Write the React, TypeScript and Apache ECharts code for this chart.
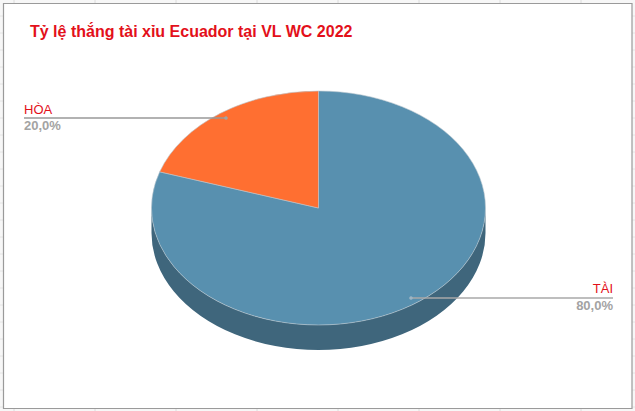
import React, { useEffect, useRef } from "react";
import * as echarts from "echarts";

const titleText = "Tỷ lệ thắng tài xỉu Ecuador tại VL WC 2022";
const categories = ["TÀI", "HÒA"];
const shares = [80, 20];
const sliceColors = ["#5890AF", "#FF6F31"];
const wallColors = ["#3F667C", "#B84F22"];

const CX = 318.5, CY = 208, RX = 167, RY = 117, DEPTH = 25;
const pt = (deg: number, dy = 0) => {
  const r = ((deg - 90) * Math.PI) / 180;
  return [CX + RX * Math.cos(r), CY + RY * Math.sin(r) + dy];
};
const arc = (from: number, to: number, dy = 0, sweep = 1) => {
  // split long arcs so that each stays under 180 degrees
  const dir = to > from ? 1 : -1;
  let s = "";
  let a = from;
  while (a !== to) {
    const b = dir > 0 ? Math.min(a + 120, to) : Math.max(a - 120, to);
    const p = pt(b, dy);
    s += ` A ${RX} ${RY} 0 0 ${sweep} ${p[0]} ${p[1]}`;
    a = b;
  }
  return s;
};

const pct = (v: number) => v.toFixed(1).replace(".", ",") + "%";

function renderSlice(params: any, api: any) {
  const i = params.dataIndex;
  const total = shares.reduce((a, b) => a + b, 0);
  const before = shares.slice(0, i).reduce((a, b) => a + b, 0);
  const a0 = (before / total) * 360;
  const a1 = a0 + (api.value(0) / total) * 360;
  const children: any[] = [];
  // the visible wall is the front half of the ellipse: 90..270 degrees clockwise from the top
  const w0 = Math.max(a0, 90), w1 = Math.min(a1, 270);
  if (w1 > w0) {
    const p0 = pt(w0), p1 = pt(w1, DEPTH);
    children.push({
      type: "path",
      shape: { pathData: `M ${p0[0]} ${p0[1]}${arc(w0, w1)} L ${p1[0]} ${p1[1]}${arc(w1, w0, DEPTH, 0)} Z` },
      style: { fill: wallColors[i], stroke: null },
    });
  }
  const s = pt(a0);
  children.push({
    type: "path",
    shape: { pathData: `M ${CX} ${CY} L ${s[0]} ${s[1]}${arc(a0, a1)} Z` },
    style: { fill: sliceColors[i], stroke: "#B9C6CE", lineWidth: 0.6, lineJoin: "round" },
  });
  return { type: "group", children };
}

export default function App() {
  const ref = useRef<HTMLDivElement>(null);
  useEffect(() => {
    document.body.style.margin = "0";
    const chart = echarts.init(ref.current!, undefined, { renderer: "svg" });
    const font = '"Liberation Sans", Arial, sans-serif';
    const grid: any[] = [];
    for (let x = 14; x < 635; x += 81) {
      grid.push({ type: "line", z: -3, shape: { x1: x, y1: 0, x2: x, y2: 411 }, style: { stroke: "#DCDCDC", lineWidth: 1 } });
    }
    for (let y = 16; y < 411; y += 17) {
      grid.push({ type: "line", z: -3, shape: { x1: 0, y1: y, x2: 635, y2: y }, style: { stroke: "#E4E4E4", lineWidth: 1 } });
    }
    chart.setOption({
      animation: false,
      backgroundColor: "#F7F7F7",
      title: {
        text: titleText,
        left: 25,
        top: 18,
        textStyle: { color: "#E3101A", fontSize: 16, fontWeight: "bold", fontFamily: font },
      },
      graphic: [
        ...grid,
        {
          type: "rect", z: -1,
          shape: { x: 3.5, y: 3.5, width: 628.5, height: 405 },
          style: { fill: "#FFFFFF", stroke: "#9A9A9A", lineWidth: 1.2 },
        },
        { type: "line", z: 10, shape: { x1: 24, y1: 118, x2: 226, y2: 118 }, style: { stroke: "#999999", lineWidth: 1.5 } },
        { type: "circle", z: 10, shape: { cx: 226, cy: 118, r: 1.8 }, style: { fill: "#A3A3A3" } },
        { type: "line", z: 10, shape: { x1: 411, y1: 298, x2: 613, y2: 298 }, style: { stroke: "#A8A8A8", lineWidth: 1.5 } },
        { type: "circle", z: 10, shape: { cx: 411, cy: 298, r: 1.8 }, style: { fill: "#9DB5C4" } },
        { type: "text", z: 10, x: 24, y: 103, style: { text: categories[1], fill: "#E3101A", font: `13px ${font}` } },
        { type: "text", z: 10, x: 24, y: 119, style: { text: pct(shares[1]), fill: "#A3A3A3", font: `bold 13px ${font}` } },
        { type: "text", z: 10, x: 613, y: 282, style: { text: categories[0], fill: "#E3101A", font: `13px ${font}`, textAlign: "right" } },
        { type: "text", z: 10, x: 613, y: 299, style: { text: pct(shares[0]), fill: "#A3A3A3", font: `bold 13px ${font}`, textAlign: "right" } },
      ],
      series: [
        {
          type: "custom",
          coordinateSystem: "none",
          renderItem: renderSlice,
          data: shares.map((v) => [v]),
          silent: true,
        },
      ],
    });
    return () => chart.dispose();
  }, []);
  return <div ref={ref} style={{ width: 635, height: 411 }} />;
}
